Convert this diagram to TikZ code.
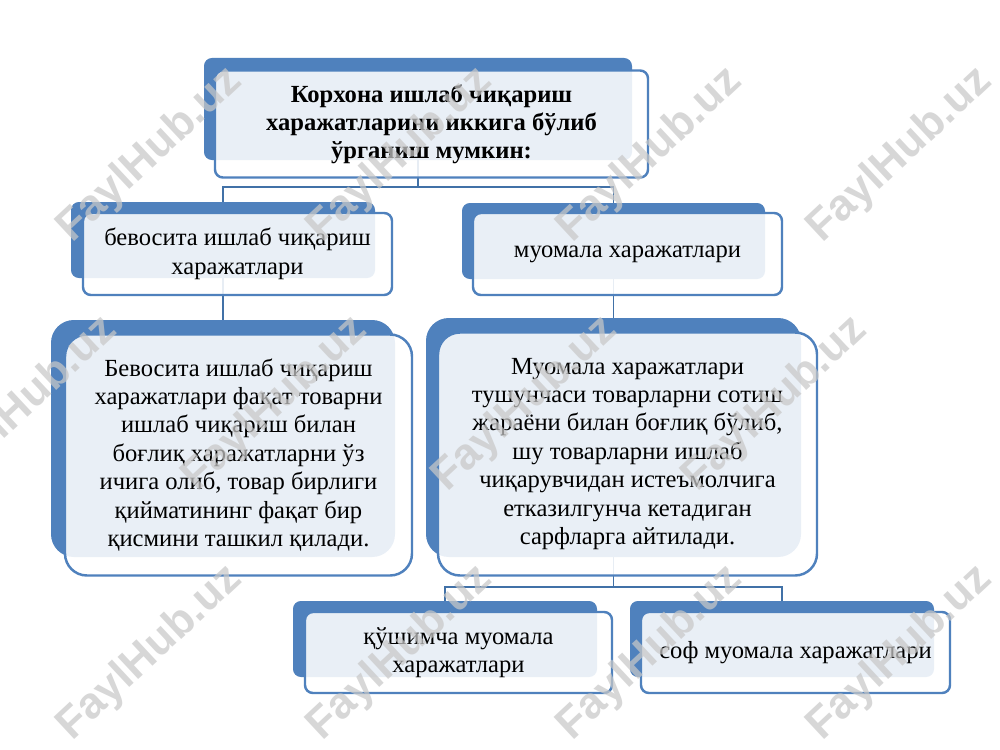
\documentclass[tikz,border=0pt]{standalone}
\usepackage{fontspec}
\setmainfont{Liberation Serif}
\newfontfamily\wmfont{Liberation Sans}
\usetikzlibrary{calc}
\definecolor{accent}{RGB}{79,129,189}
\definecolor{connc}{RGB}{65,113,167}
\definecolor{wmc}{RGB}{200,200,200}
\newcommand{\pxu}{0.02cm}
\tikzset{
  sized/.style 2 args={minimum width=#1*\pxu, minimum height=#2*\pxu},
  tabbox/.style={fill=accent, draw=none, inner sep=0pt, rounded corners=#1},
  tabbox/.default=4.5pt,
  frontbox/.style={fill=white, fill opacity=0.88, text opacity=1, draw=accent,
    line width=1.4pt, inner sep=0pt, align=center, rounded corners=#1,
    font=\fontsize{14}{16.2}\selectfont},
  frontbox/.default=4.5pt,
  conn/.style={draw=connc, line width=1.1pt},
  wm/.style={rotate=43, inner sep=0pt, text=wmc, opacity=0.72,
    font=\wmfont\bfseries\fontsize{25}{25}\selectfont}
}
\begin{document}
\begin{tikzpicture}[x=\pxu, y=-\pxu]
\fill[white] (0,0) rectangle (1000,750);
\useasboundingbox (0,0) rectangle (1000,750);

% named coordinates for bus lines
\coordinate (bus1) at (0,187);
\coordinate (bus2) at (0,587);

% tab nodes (blue back shapes), placed for connectors
\path
  node[sized={428}{102}, inner sep=0pt] (t0) at (418,109) {}
  node[sized={304}{76}, inner sep=0pt] (t1) at (223,240) {}
  node[sized={303}{76}, inner sep=0pt] (t2) at (613.5,241) {}
  node[sized={344}{237}, inner sep=0pt] (t3) at (223,438.5) {}
  node[sized={375}{239}, inner sep=0pt] (t4) at (613.5,437.5) {}
  node[sized={304}{76}, inner sep=0pt] (t5) at (445,639) {}
  node[sized={304}{76}, inner sep=0pt] (t6) at (782,639) {};

% connectors
\draw[conn] (t0.center) -- (t0.center |- bus1) -| (t1.center);
\draw[conn] (t0.center |- bus1) -| (t2.center);
\draw[conn] (t1.center) -- (t3.center);
\draw[conn] (t2.center) -- (t4.center);
\draw[conn] (t4.center) -- (t4.center |- bus2) -| (t5.center);
\draw[conn] (t4.center |- bus2) -| (t6.center);

% tabs
\node[tabbox, sized={428}{102}] at (t0.center) {};
\node[tabbox, sized={304}{76}] at (t1.center) {};
\node[tabbox, sized={303}{76}] at (t2.center) {};
\node[tabbox=13pt, sized={344}{237}] at (t3.center) {};
\node[tabbox=13pt, sized={375}{239}] at (t4.center) {};
\node[tabbox, sized={304}{76}] at (t5.center) {};
\node[tabbox, sized={304}{76}] at (t6.center) {};

% front boxes with text
\node[frontbox, sized={433}{107}, font=\bfseries\fontsize{14}{16}\selectfont] (f0) at (431.5,124)
  {Корхона ишлаб чиқариш\\ харажатларини иккига бўлиб\\ ўрганиш мумкин:};
\node[frontbox, sized={309}{82}] (f1) at (237.5,254)
  {бевосита ишлаб чиқариш\\ харажатлари};
\node[frontbox, sized={309}{82}] (f2) at (627.5,254)
  {муомала харажатлари};
\node[frontbox=12.5pt, sized={347}{241}] (f3) at (238.5,455)
  {Бевосита ишлаб чиқариш\\ харажатлари фақат товарни\\ ишлаб чиқариш билан\\ боғлиқ харажатларни ўз\\ ичига олиб, товар бирлиги\\ қийматининг фақат бир\\ қисмини ташкил қилади.};
\node[frontbox=12.5pt, sized={379}{243}] (f4) at (627.5,454)
  {Муомала харажатлари\\ тушунчаси товарларни сотиш\\ жараёни билан боғлиқ бўлиб,\\ шу товарларни ишлаб\\ чиқарувчидан истеъмолчига\\ етказилгунча кетадиган\\ сарфларга айтилади.};
\node[frontbox, sized={307}{81}] (f5) at (458.5,652.5)
  {қўшимча муомала\\ харажатлари};
\node[frontbox, sized={309}{81}] (f6) at (795.5,652.5)
  {соф муомала харажатлари};

% watermarks
\foreach \wx/\wy [count=\i] in {150/155,400/155,650/155,900/155,
                   25/404,275/404,525/404,775/404,
                   150/653,400/653,650/653,900/653}
  \node[wm] (wm\i) at (\wx,\wy) {FaylHub.uz};
\end{tikzpicture}
\end{document}
